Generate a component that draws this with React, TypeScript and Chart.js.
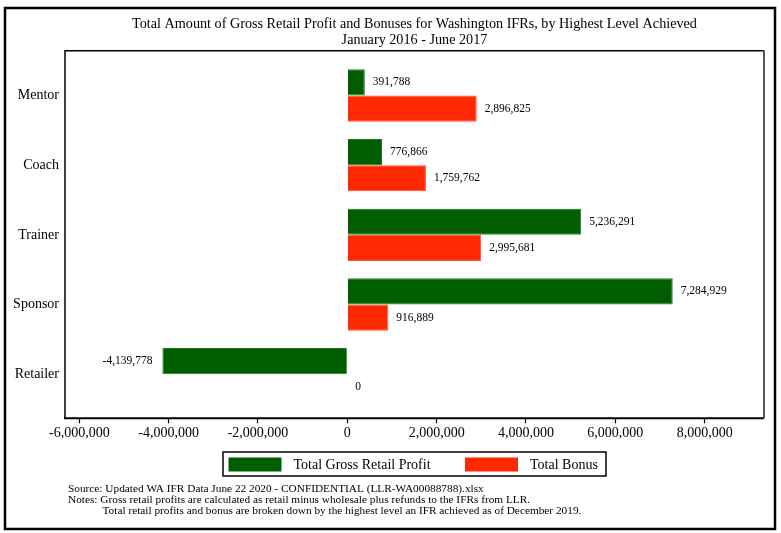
import React, { useEffect, useRef } from "react";
import { Chart, registerables } from "chart.js";

Chart.register(...registerables);

const categories = ["Mentor", "Coach", "Trainer", "Sponsor", "Retailer"];
const grossRetailProfit = [391788, 776866, 5236291, 7284929, -4139778];
const totalBonus = [2896825, 1759762, 2995681, 916889, 0];
const xTickValues = [-6000000, -4000000, -2000000, 0, 2000000, 4000000, 6000000, 8000000];
const seriesNames = ["Total Gross Retail Profit", "Total Bonus"];
const titleLines = [
  "Total Amount of Gross Retail Profit and Bonuses for Washington IFRs, by Highest Level Achieved",
  "January 2016 - June 2017",
];
const noteLines = [
  "Source: Updated WA IFR Data June 22 2020 - CONFIDENTIAL (LLR-WA00088788).xlsx",
  "Notes: Gross retail profits are calculated as retail minus wholesale plus refunds to the IFRs from LLR.",
  "Total retail profits and bonus are broken down by the highest level an IFR achieved as of December 2019.",
];

const GREEN = "#005e00";
const RED = "#ff2800";
const SERIF = "'Liberation Serif', 'Times New Roman', serif";

const fmt = (v: number) => v.toLocaleString("en-US");

const decorPlugin = {
  id: "decor",
  afterDatasetsDraw(chart: any) {
    const ctx = chart.ctx;
    ctx.save();
    ctx.font = `11.5px ${SERIF}`;
    ctx.fillStyle = "#000";
    ctx.textBaseline = "middle";
    chart.data.datasets.forEach((ds: any, di: number) => {
      const meta = chart.getDatasetMeta(di);
      meta.data.forEach((bar: any, i: number) => {
        const v = ds.data[i].x;
        if (v < 0) {
          ctx.textAlign = "right";
          ctx.fillText(fmt(v), bar.x - 10, bar.y);
        } else {
          ctx.textAlign = "left";
          ctx.fillText(fmt(v), bar.x + 8, bar.y);
        }
      });
    });
    ctx.restore();
  },
  afterDraw(chart: any) {
    const ctx = chart.ctx;
    const a = chart.chartArea;
    ctx.save();
    // outer frame
    ctx.strokeStyle = "#000";
    ctx.lineWidth = 2.5;
    ctx.strokeRect(5, 8, 770, 521);
    // plot region box
    ctx.lineWidth = 1.5;
    ctx.beginPath();
    ctx.moveTo(a.left, a.bottom);
    ctx.lineTo(a.left, a.top);
    ctx.lineTo(a.right, a.top);
    ctx.stroke();
    ctx.lineWidth = 2;
    ctx.beginPath();
    ctx.moveTo(a.left - 1, a.bottom);
    ctx.lineTo(a.right, a.bottom);
    ctx.stroke();
    ctx.strokeStyle = "#555";
    ctx.beginPath();
    ctx.moveTo(a.right, a.top);
    ctx.lineTo(a.right, a.bottom);
    ctx.stroke();

    // title
    const cx = (a.left + a.right) / 2;
    ctx.fillStyle = "#000";
    ctx.textAlign = "center";
    ctx.textBaseline = "middle";
    ctx.font = `14.2px ${SERIF}`;
    ctx.fillText(titleLines[0], cx, 24);
    ctx.fillText(titleLines[1], cx, 40);

    // legend
    ctx.lineWidth = 1.5;
    ctx.strokeStyle = "#000";
    ctx.strokeRect(223, 452, 383, 24);
    ctx.fillStyle = GREEN;
    ctx.fillRect(228.5, 457.5, 53, 14);
    ctx.fillStyle = RED;
    ctx.fillRect(465, 457.5, 53, 14);
    ctx.fillStyle = "#000";
    ctx.textAlign = "left";
    ctx.font = `14px ${SERIF}`;
    ctx.fillText(seriesNames[0], 293.5, 465);
    ctx.fillText(seriesNames[1], 530, 465);

    // notes
    ctx.font = `11.3px ${SERIF}`;
    const noteX = [68, 68, 102.5];
    const noteY = [489, 500, 511];
    noteLines.forEach((t, i) => {
      ctx.fillText(t, noteX[i], noteY[i]);
    });
    ctx.restore();
  },
};

export default function App() {
  const ref = useRef<HTMLCanvasElement | null>(null);
  useEffect(() => {
    if (!ref.current) return;
    const chart = new Chart(ref.current, {
      type: "bar",
      data: {
        datasets: [
          {
            label: seriesNames[0],
            data: grossRetailProfit.map((v, i) => ({ x: v, y: i })),
            backgroundColor: GREEN,
            borderColor: "#1f7a1f",
            borderWidth: 1,
          },
          {
            label: seriesNames[1],
            data: totalBonus.map((v, i) => ({ x: v, y: i })),
            backgroundColor: RED,
            borderColor: "#ff5030",
            borderWidth: 1,
          },
        ],
      },
      plugins: [decorPlugin],
      options: {
        indexAxis: "y",
        responsive: false,
        animation: false,
        categoryPercentage: 0.752,
        barPercentage: 1,
        layout: { padding: { top: 50.7, right: 17, bottom: 84.7, left: 0 } },
        plugins: {
          legend: { display: false },
          title: { display: false },
          tooltip: { enabled: false },
        },
        scales: {
          x: {
            type: "linear",
            min: -6320000,
            max: 9328000,
            afterBuildTicks: (s: any) => {
              s.ticks = xTickValues.map((v) => ({ value: v }));
            },
            afterFit: (s: any) => {
              s.height = 30;
            },
            border: { display: false },
            grid: {
              drawOnChartArea: false,
              drawTicks: true,
              tickLength: 5,
              color: "#000",
              tickWidth: 1.2,
            },
            ticks: {
              color: "#000",
              font: { family: SERIF, size: 14 },
              padding: 2,
              maxRotation: 0,
              autoSkip: false,
              callback: (v: any) => fmt(Number(v)),
            },
          },
          y: {
            type: "linear",
            reverse: true,
            offset: false,
            min: -0.643,
            max: 4.633,
            afterBuildTicks: (s: any) => {
              s.ticks = categories.map((_, i) => ({ value: i }));
            },
            afterFit: (s: any) => {
              s.width = 65;
            },
            border: { display: false },
            grid: { display: false, drawTicks: false, offset: false },
            ticks: {
              color: "#000",
              font: { family: SERIF, size: 14 },
              padding: 6,
              autoSkip: false,
              callback: (v: any) => categories[Number(v)] ?? "",
            },
          },
        },
      },
    } as any);
    return () => chart.destroy();
  }, []);
  return (
    <div style={{ position: "fixed", left: 0, top: 0, width: 781, height: 533, background: "#fff" }}>
      <canvas ref={ref} width={781} height={533} />
    </div>
  );
}
